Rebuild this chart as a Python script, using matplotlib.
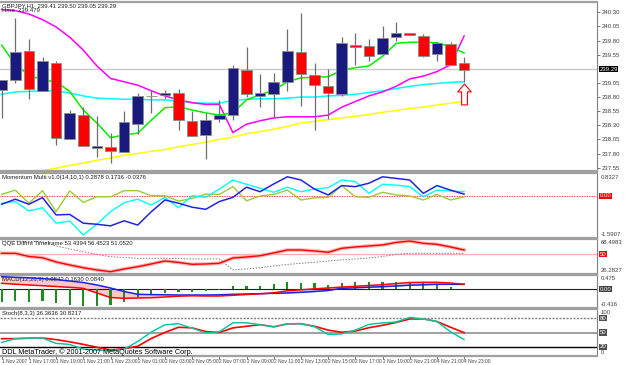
import numpy as np
import matplotlib
matplotlib.use("Agg")
import matplotlib.pyplot as plt
from matplotlib.path import Path

plt.rcParams["font.family"] = ["Liberation Sans", "DejaVu Sans"]

# GBPJPY H1 candles
opens = [238.92, 239.11, 239.62, 238.91, 239.40, 238.05, 238.49, 237.90, 237.92, 237.82,
         238.32, 238.82, 238.84, 238.88, 238.38, 238.13, 238.41, 238.48, 239.28, 238.82,
         238.85, 239.07, 239.60, 239.19, 239.00, 238.85, 239.72, 239.71, 239.56, 239.87,
         239.94, 239.88, 239.56, 239.74, 239.41]
highs = [239.10, 240.19, 239.82, 239.51, 239.44, 238.57, 238.62, 238.46, 238.16, 238.55,
         238.88, 238.92, 238.92, 238.94, 238.55, 238.51, 238.75, 239.37, 239.69, 239.21,
         239.23, 240.00, 240.29, 239.41, 239.29, 239.87, 239.94, 239.82, 240.06, 240.13,
         239.94, 239.91, 239.78, 239.77, 239.50]
lows = [238.43, 239.05, 238.76, 238.91, 237.96, 238.05, 237.93, 237.74, 237.63, 237.82,
        238.15, 238.51, 238.78, 238.22, 238.11, 237.70, 238.36, 238.39, 238.80, 238.62,
        238.45, 238.91, 238.64, 238.22, 238.41, 238.81, 239.37, 239.43, 239.56, 239.80,
        239.90, 239.50, 239.43, 239.37, 239.07]
closes = [239.10, 239.59, 238.94, 239.43, 238.07, 238.51, 237.93, 237.94, 237.85, 238.35,
          238.81, 238.82, 238.87, 238.39, 238.11, 238.39, 238.49, 239.31, 238.85, 238.87,
          239.07, 239.62, 239.20, 239.01, 238.87, 239.75, 239.69, 239.53, 239.84, 239.93,
          239.90, 239.53, 239.75, 239.37, 239.28]

hma = [240.35, 240.33, 240.27, 240.17, 240.04, 239.86, 239.63, 239.35, 239.13, 239.07,
       239.01, 238.91, 238.82, 238.75, 238.70, 238.67, 238.67, 238.17, 238.32, 238.38,
       238.43, 238.45, 238.45, 238.45, 238.48, 238.62, 238.72, 238.82, 238.89, 238.99,
       239.12, 239.17, 239.25, 239.37, 239.88]
ma_green = [239.72, 239.37, 239.19, 239.10, 239.07, 238.90, 238.57, 238.34, 238.08, 238.13,
            238.16, 238.39, 238.61, 238.63, 238.57, 238.52, 238.48, 238.52, 238.75, 238.84,
            238.92, 239.07, 239.14, 239.15, 239.16, 239.27, 239.32, 239.35, 239.52, 239.75,
            239.77, 239.77, 239.76, 239.69, 239.58]
ma_cyan = [238.85, 238.89, 238.90, 238.91, 238.91, 238.87, 238.82, 238.78, 238.77, 238.76,
           238.76, 238.75, 238.75, 238.73, 238.70, 238.69, 238.69, 238.74, 238.76, 238.77,
           238.77, 238.78, 238.80, 238.80, 238.82, 238.83, 238.85, 238.88, 238.91, 238.95,
           238.99, 239.02, 239.04, 239.06, 239.07]
ma_yellow = [237.38, 237.42, 237.46, 237.50, 237.54, 237.59, 237.63, 237.68, 237.72, 237.77,
             237.80, 237.84, 237.87, 237.92, 237.96, 238.00, 238.05, 238.09, 238.15, 238.19,
             238.23, 238.28, 238.34, 238.37, 238.40, 238.43, 238.46, 238.49, 238.53, 238.56,
             238.60, 238.62, 238.66, 238.69, 238.72]
bid_price = 239.29
arrow_bar = 34
arrow_price = 238.85

mom_blue = [-0.31, -0.12, -0.31, -0.06, -0.71, -0.69, -1.02, -1.06, -1.12, -0.93,
            -1.09, -0.59, -0.15, -0.27, -0.42, -0.50, -0.21, -0.05, 0.33, 0.16,
            0.45, 0.72, 0.60, 0.26, 0.04, 0.39, 0.35, 0.48, 0.72, 0.66,
            0.60, 0.10, 0.39, 0.22, 0.07]
mom_cyan = [-0.27, -0.21, -0.56, -0.44, -1.02, -0.94, -1.46, -1.06, -0.59, -0.25,
            -0.12, -0.34, -0.05, -0.44, 0.01, -0.05, 0.26, 0.60, 0.44, 0.29,
            0.14, 0.33, 0.16, 0.26, 0.31, 0.60, 0.54, 0.10, 0.44, 0.41,
            0.35, -0.03, 0.22, 0.19, 0.16]
mom_olive = [0.06, 0.22, -0.27, 0.20, -0.59, 0.19, -0.24, -0.03, -0.03, 0.20,
             0.20, 0.01, 0.01, -0.19, -0.09, 0.07, 0.06, 0.35, -0.18, 0.00,
             0.06, 0.22, -0.15, -0.07, -0.05, 0.39, -0.03, -0.05, 0.14, 0.04,
             0.00, -0.15, 0.06, -0.15, -0.03]

qqe_red = [51.2, 51.2, 47.4, 45.9, 40.8, 37.2, 33.9, 31.2, 29.1, 32.4,
           35.1, 38.4, 42.0, 40.2, 38.0, 38.4, 39.2, 45.6, 46.8, 48.3,
           51.6, 55.2, 55.2, 54.0, 52.4, 57.2, 58.8, 60.0, 61.2, 64.2,
           66.0, 63.2, 62.0, 58.8, 55.2]
qqe_gray = [66.0, 65.7, 65.4, 65.1, 60.0, 56.4, 53.1, 49.8, 47.1, 46.2,
            45.2, 45.2, 45.2, 44.8, 44.4, 44.4, 44.4, 31.2, 32.4, 33.9,
            36.0, 37.8, 39.2, 40.4, 42.0, 43.2, 44.4, 45.6, 47.4, 49.8,
            51.2, 51.2, 51.2, 51.2, 51.2]

macd_hist = [-0.325, -0.307, -0.325, -0.307, -0.367, -0.411, -0.430, -0.430, -0.411, -0.325,
             -0.194, -0.149, -0.105, -0.079, -0.063, -0.045, -0.018, 0.086, 0.094, 0.094,
             0.131, 0.183, 0.173, 0.173, 0.113, 0.173, 0.199, 0.199, 0.199, 0.199,
             0.173, 0.157, 0.131, 0.068, 0.008]
macd_main = [0.330, 0.314, 0.301, 0.283, 0.257, 0.217, 0.178, 0.113, 0.034, -0.058,
             -0.131, -0.139, -0.144, -0.149, -0.149, -0.149, -0.144, -0.131, -0.123, -0.115,
             -0.105, -0.097, -0.079, -0.058, -0.031, 0.026, 0.039, 0.055, 0.068, 0.086,
             0.107, 0.118, 0.131, 0.131, 0.131]
macd_signal = [0.157, 0.134, 0.113, 0.094, 0.073, 0.052, 0.026, -0.097, -0.215, -0.236,
               -0.228, -0.220, -0.202, -0.181, -0.170, -0.176, -0.176, -0.157, -0.136, -0.118,
               -0.092, -0.039, -0.013, 0.013, 0.034, 0.060, 0.079, 0.100, 0.121, 0.152,
               0.178, 0.183, 0.183, 0.165, 0.131]

stoch_main = [28.8, 36.9, 37.9, 38.3, 26.8, 24.7, 14.6, 12.6, 11.1, 14.6,
              30.8, 51.1, 66.3, 68.7, 59.2, 49.1, 51.7, 70.7, 70.7, 66.7,
              61.8, 68.7, 68.7, 62.2, 46.0, 47.0, 55.1, 67.3, 70.3, 72.4,
              82.1, 78.9, 73.4, 51.7, 34.9]
stoch_signal = [36.9, 36.9, 37.9, 38.3, 34.9, 30.2, 24.7, 18.6, 12.6, 15.6,
                20.7, 37.3, 50.1, 61.2, 59.8, 52.1, 50.1, 59.8, 63.2, 66.7,
                62.2, 68.3, 68.7, 63.2, 55.1, 50.5, 53.1, 60.2, 65.3, 71.4,
                78.9, 78.9, 73.4, 61.2, 49.7]

time_labels = ["1 Nov 2007", "1 Nov 17:00", "1 Nov 19:00", "1 Nov 21:00", "1 Nov 23:00",
               "2 Nov 01:00", "2 Nov 03:00", "2 Nov 05:00", "2 Nov 07:00", "2 Nov 09:00",
               "2 Nov 11:00", "2 Nov 13:00", "2 Nov 15:00", "2 Nov 17:00", "2 Nov 19:00",
               "2 Nov 21:00", "4 Nov 21:00", "4 Nov 23:00"]

W, H = 625, 365
fig = plt.figure(figsize=(W / 100, H / 100), dpi=100)
fig.patch.set_facecolor("white")

XLIM = (-0.125, 43.77)
x = np.arange(len(closes))
FS = 4.3
GRAY = "#a0a0a0"


def panel(top, bottom):
    ax = fig.add_axes([0, 1 - bottom / H, 597 / W, (bottom - top) / H])
    ax.set_xlim(*XLIM)
    ax.set_xticks([])
    ax.spines["left"].set_visible(False)
    for s in ("top", "bottom"):
        ax.spines[s].set_color(GRAY)
        ax.spines[s].set_linewidth(1.6)
    ax.spines["right"].set_color("#808080")
    ax.spines["right"].set_linewidth(0.8)
    ax.yaxis.tick_right()
    ax.tick_params(axis="y", length=2, width=0.5, pad=1.5, labelsize=FS,
                   colors="#404040")
    return ax


def box_label(ax, y, text, fc, tc="white"):
    ax.text(1.004, y, text, transform=ax.get_yaxis_transform(), fontsize=FS,
            va="center", ha="left", color=tc,
            bbox=dict(boxstyle="square,pad=0.1", fc=fc, ec="none"))


def edge_labels(ax, top_text, bottom_text):
    ax.text(1.006, 0.97, top_text, transform=ax.transAxes, fontsize=FS,
            va="top", ha="left", color="#404040")
    ax.text(1.006, 0.02, bottom_text, transform=ax.transAxes, fontsize=FS,
            va="bottom", ha="left", color="#404040")


# ---- main price panel
ax = panel(2, 171)
ax.set_ylim(237.491, 240.482)
ax.axhline(bid_price, color="#c8c8c8", lw=1)
ax.plot(x, ma_yellow, color="#ffff00", lw=1.1)
ax.plot(x, ma_cyan, color="#00ffff", lw=1.1)
ax.plot(x, hma, color="#ff00ff", lw=1.1)
ax.plot(x, ma_green, color="#00ee00", lw=1.1)

o = np.array(opens); c = np.array(closes)
bull = c >= o
ax.vlines(x, lows, highs, color="#6e6e6e", lw=0.9, zorder=3)
body_h = np.maximum(np.abs(c - o), 0.006)
ax.bar(x, body_h, bottom=np.minimum(o, c), width=0.78,
       color=np.where(bull, "#191980", "#ff0000"), edgecolor="#8c8c8c",
       linewidth=0.6, zorder=4)

arrow = Path([(0, 1), (0.65, 0.25), (0.28, 0.25), (0.28, -1), (-0.28, -1),
              (-0.28, 0.25), (-0.65, 0.25), (0, 1)],
             [Path.MOVETO] + [Path.LINETO] * 6 + [Path.CLOSEPOLY])
ax.plot([arrow_bar], [arrow_price], marker=arrow, ms=15, mfc="white",
        mec="#ff0000", mew=0.8, zorder=5)

main_ticks = [237.55, 237.80, 238.05, 238.30, 238.55, 238.80, 239.05,
              239.55, 239.80, 240.05, 240.30]
ax.set_yticks(main_ticks)
ax.set_yticklabels(["%.2f" % t for t in main_ticks])
box_label(ax, bid_price, "%.2f" % bid_price, "#000000")
ax.text(0.004, 0.995, "GBPJPY,H1  239.41 239.50 239.05 239.29", transform=ax.transAxes,
        fontsize=FS, va="top", color="#202020")
ax.text(0.004, 0.965, "Hma  239.479", transform=ax.transAxes,
        fontsize=FS, va="top", color="#202020")

# ---- momentum panel
ax = panel(173, 238)
ax.set_ylim(-1.575, 0.862)
ax.set_yticks([])
ax.axhline(0, color="#ff0000", lw=0.6, ls=(0, (1, 1)))
ax.plot(x, mom_olive, color="#9acd32", lw=1)
ax.plot(x, mom_cyan, color="#00ffff", lw=1)
ax.plot(x, mom_blue, color="#2323e6", lw=1.1)
edge_labels(ax, "0.8327", "-1.5907")
box_label(ax, 0, "0.00", "#ff0000")
ax.text(0.004, 0.97, "Momentum Multi v1.0(14,10,1) 0.2878 0.1736 -0.0376",
        transform=ax.transAxes, fontsize=FS, va="top", color="#202020")

# ---- QQE panel
ax = panel(239, 274)
ax.set_ylim(26.36, 68.36)
ax.set_yticks([])
ax.axhline(50, color="#ffb0b0", lw=1)
ax.plot(x, qqe_gray, color="#808080", lw=0.7, ls=(0, (1.5, 1.5)))
ax.plot(x, qqe_red, color="#ffb4b4", lw=2.6)
ax.plot(x, qqe_red, color="#ff0000", lw=1)
edge_labels(ax, "68.4983", "26.2827")
box_label(ax, 50, "50", "#ff0000")
ax.text(0.004, 0.95, "QQE Diffrnt Timeframe 53.4394 56.4523 51.0520",
        transform=ax.transAxes, fontsize=FS, va="top", color="#202020")

# ---- MACD panel
ax = panel(275, 308)
ax.set_ylim(-0.49, 0.375)
ax.set_yticks([])
ax.axhline(0, color="#202020", lw=0.8)
mm = np.array(macd_main); ms = np.array(macd_signal)
ax.fill_between(x, mm, ms, where=mm >= ms, color="#ffc8c8", lw=0, interpolate=True)
ax.fill_between(x, mm, ms, where=mm < ms, color="#c8c8ff", lw=0, interpolate=True)
ax.bar(x, macd_hist, width=0.15, color="#1e8c1e", zorder=3)
ax.plot(x, macd_main, color="#1e1ee6", lw=1.1, zorder=4)
ax.plot(x, macd_signal, color="#ff0000", lw=1.1, zorder=4)
edge_labels(ax, "0.475", "-0.416")
box_label(ax, 0, "0.00", "#404040")
ax.text(0.004, 0.95, "MACD(12,26,9) 0.0842 0.1630 0.0840",
        transform=ax.transAxes, fontsize=FS, va="top", color="#202020")

# ---- stochastic panel
ax = panel(309, 356)
ax.set_ylim(0, 100)
ax.set_yticks([])
ax.axhline(80, color="#808080", lw=1, ls=(0, (1.5, 1)))
ax.axhline(50, color="#909090", lw=1.2)
ax.axhline(20, color="#000000", lw=1)
ax.plot(x, stoch_signal, color="#ff0000", lw=1.2)
ax.plot(x, stoch_main, color="#00e0e0", lw=1)
ax.plot(x, stoch_main, color="#20b060", lw=0.5)
edge_labels(ax, "100", "0")
for lvl in (80, 50, 20):
    box_label(ax, lvl, str(lvl), "#505050")
ax.text(0.004, 0.96, "Stoch(8,3,3) 36.3636 30.8217",
        transform=ax.transAxes, fontsize=FS, va="top", color="#202020")
ax.text(0.004, 0.01, "DDL MetaTrader, \u00a9 2001-2007 MetaQuotes Software Corp.",
        transform=ax.transAxes, fontsize=5.2, va="bottom", color="#000000")
ax.set_xticks(x[::2])
ax.set_xticklabels(time_labels)
ax.tick_params(axis="x", length=2, width=0.5, pad=0.4, labelsize=3.5, colors="#404040")
for lab in ax.get_xticklabels():
    lab.set_horizontalalignment("left")

fig.savefig("out.png", dpi=100, facecolor="white")
